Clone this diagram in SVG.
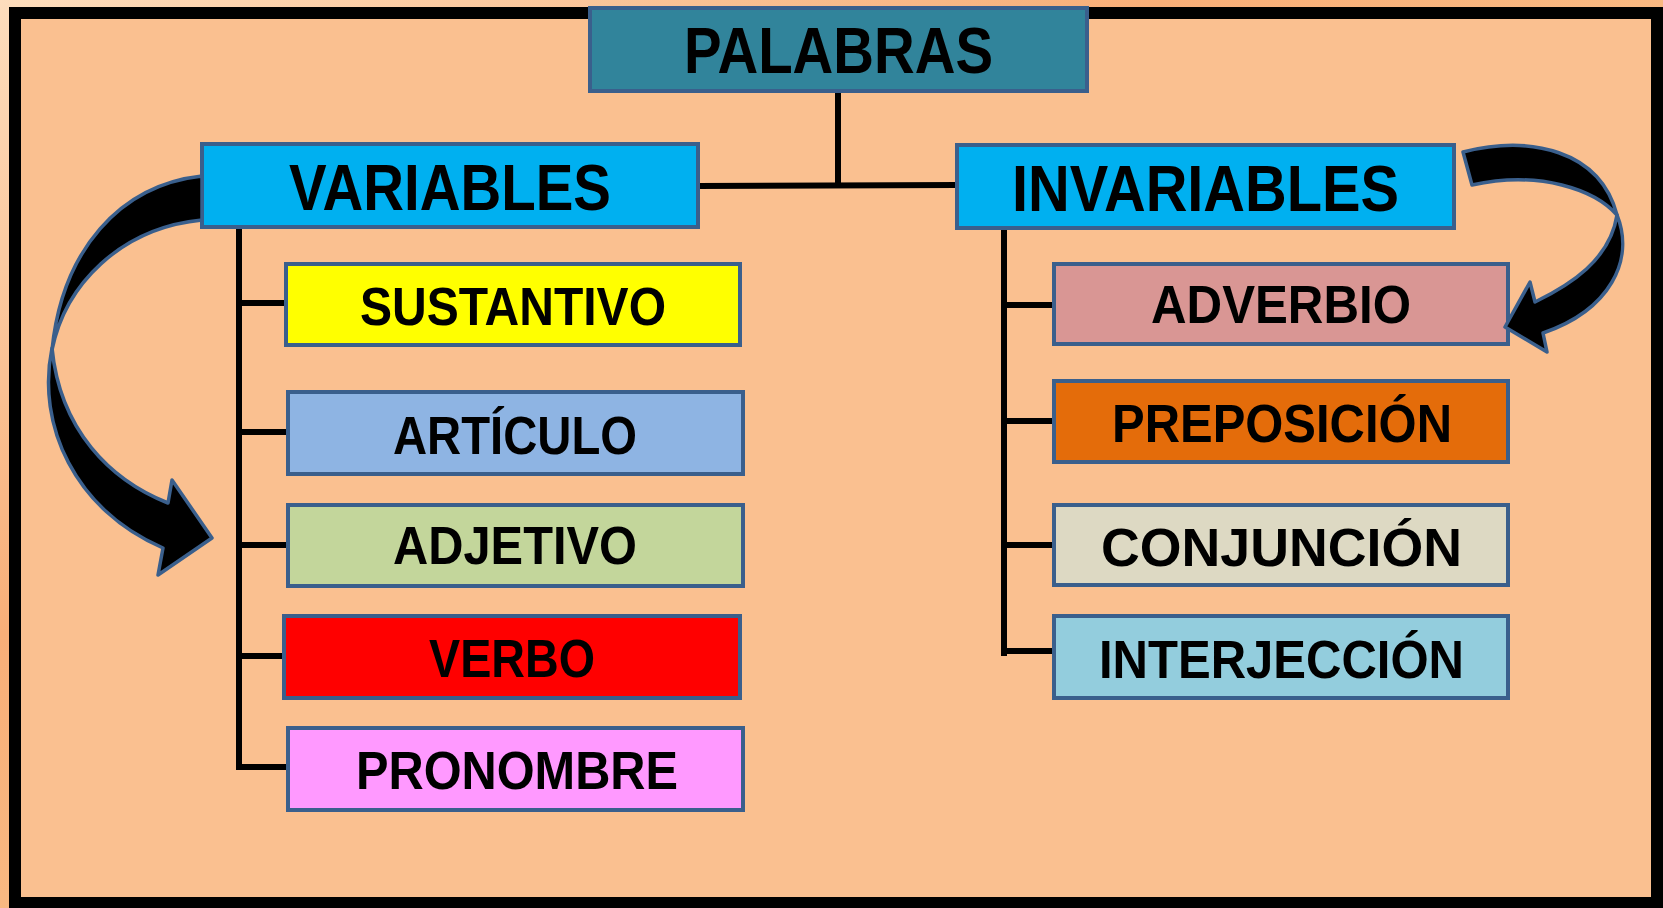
<svg xmlns="http://www.w3.org/2000/svg" width="1663" height="908" viewBox="0 0 1663 908">
<defs>
<linearGradient id="bg" x1="0" y1="0" x2="1" y2="1">
<stop offset="0" stop-color="#FDDDBD"/>
<stop offset="0.35" stop-color="#F8AE78"/>
<stop offset="0.7" stop-color="#FAC68E"/>
<stop offset="1" stop-color="#FDDCC0"/>
</linearGradient>
<style>
.box{stroke:#3A5F8C;stroke-width:4}
.lbl{font-family:"Liberation Sans",Arial,sans-serif;font-weight:bold;fill:#000}
.big{font-size:64px}
.sm{font-size:54px}
.ln{stroke:#000;stroke-width:6;fill:none}
.arr{fill:#000;stroke:#3A5F8C;stroke-width:3.5;stroke-linejoin:round}
</style>
</defs>
<rect x="0" y="0" width="1663" height="908" fill="url(#bg)"/>
<rect x="15" y="13" width="1642" height="890" fill="#FAC090" stroke="#000" stroke-width="12"/>

<g id="connectors">
<polyline class="ln" points="838,91 838,185"/>
<polyline class="ln" points="698,186 957,185"/>
<polyline class="ln" points="239,225 239,769"/>
<line class="ln" x1="239" y1="303" x2="286" y2="303"/>
<line class="ln" x1="239" y1="432" x2="288" y2="432"/>
<line class="ln" x1="239" y1="545" x2="288" y2="545"/>
<line class="ln" x1="239" y1="656" x2="284" y2="656"/>
<line class="ln" x1="236" y1="767" x2="288" y2="767"/>
<polyline class="ln" points="1004,228 1004,656"/>
<line class="ln" x1="1004" y1="305" x2="1053" y2="305"/>
<line class="ln" x1="1004" y1="421" x2="1053" y2="421"/>
<line class="ln" x1="1004" y1="545" x2="1053" y2="545"/>
<line class="ln" x1="1004" y1="651" x2="1053" y2="651"/>
</g>

<g id="palabras">
<rect class="box" x="590" y="8" width="497" height="83" fill="#31849B"/>
<text class="lbl big" x="684" y="73" textLength="309" lengthAdjust="spacingAndGlyphs">PALABRAS</text>
</g>
<g id="variables">
<rect class="box" x="202" y="144" width="496" height="83" fill="#00B0F0"/>
<text class="lbl big" x="289" y="210" textLength="322" lengthAdjust="spacingAndGlyphs">VARIABLES</text>
</g>
<g id="invariables">
<rect class="box" x="957" y="145" width="497" height="83" fill="#00B0F0"/>
<text class="lbl big" x="1012" y="211" textLength="387" lengthAdjust="spacingAndGlyphs">INVARIABLES</text>
</g>
<g id="sustantivo">
<rect class="box" x="286" y="264" width="454" height="81" fill="#FFFF00"/>
<text class="lbl sm" x="360" y="325" textLength="306" lengthAdjust="spacingAndGlyphs">SUSTANTIVO</text>
</g>
<g id="articulo">
<rect class="box" x="288" y="392" width="455" height="82" fill="#8EB4E3"/>
<text class="lbl sm" x="393" y="454" textLength="244" lengthAdjust="spacingAndGlyphs">ARTÍCULO</text>
</g>
<g id="adjetivo">
<rect class="box" x="288" y="505" width="455" height="81" fill="#C3D69B"/>
<text class="lbl sm" x="393" y="564" textLength="244" lengthAdjust="spacingAndGlyphs">ADJETIVO</text>
</g>
<g id="verbo">
<rect class="box" x="284" y="616" width="456" height="82" fill="#FF0000"/>
<text class="lbl sm" x="429" y="677" textLength="166" lengthAdjust="spacingAndGlyphs">VERBO</text>
</g>
<g id="pronombre">
<rect class="box" x="288" y="728" width="455" height="82" fill="#FF99FF"/>
<text class="lbl sm" x="356" y="789" textLength="322" lengthAdjust="spacingAndGlyphs">PRONOMBRE</text>
</g>
<g id="adverbio">
<rect class="box" x="1054" y="264" width="454" height="80" fill="#D99694"/>
<text class="lbl sm" x="1151" y="323" textLength="260" lengthAdjust="spacingAndGlyphs">ADVERBIO</text>
</g>
<g id="preposicion">
<rect class="box" x="1054" y="381" width="454" height="81" fill="#E46C0A"/>
<text class="lbl sm" x="1112" y="442" textLength="340" lengthAdjust="spacingAndGlyphs">PREPOSICIÓN</text>
</g>
<g id="conjuncion">
<rect class="box" x="1054" y="505" width="454" height="80" fill="#DDD9C3"/>
<text class="lbl sm" x="1101" y="566" textLength="361" lengthAdjust="spacingAndGlyphs">CONJUNCIÓN</text>
</g>
<g id="interjeccion">
<rect class="box" x="1054" y="616" width="454" height="82" fill="#93CDDD"/>
<text class="lbl sm" x="1099" y="678" textLength="365" lengthAdjust="spacingAndGlyphs">INTERJECCIÓN</text>
</g>

<g id="arrows">
<path class="arr" d="M202,176 C120,185 62,250 52,350 C65,285 120,228 202,220 Z"/>
<path class="arr" d="M52,348 C36,425 75,510 163,548 L158,575 L212,538 L172,480 L168,503 C110,480 60,430 52,348 Z"/>
<path class="arr" d="M1463,152 C1530,135 1600,150 1617,215 C1595,190 1540,170 1472,185 Z"/>
<path class="arr" d="M1617,215 C1635,260 1610,310 1543,333 L1547,352 L1505,327 L1530,282 L1535,302 C1570,285 1610,260 1617,215 Z"/>
</g>
</svg>
